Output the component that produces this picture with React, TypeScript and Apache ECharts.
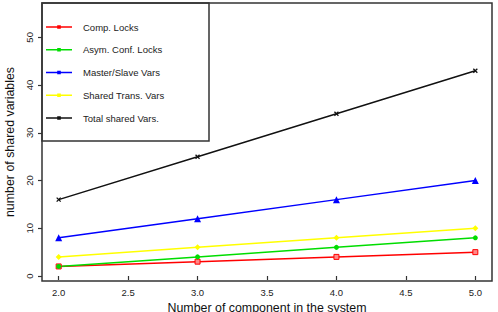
import React, { useEffect, useRef } from "react";
import * as echarts from "echarts";

const xValues = [2, 3, 4, 5];
const compLocks = [2, 3, 4, 5];
const asymConfLocks = [2, 4, 6, 8];
const masterSlaveVars = [8, 12, 16, 20];
const sharedTransVars = [4, 6, 8, 10];
const totalSharedVars = [16, 25, 34, 43];
const xTicks = [2, 2.5, 3, 3.5, 4, 4.5, 5];
const yTicks = [0, 10, 20, 30, 40, 50];
const seriesNames = ["Comp. Locks", "Asym. Conf. Locks", "Master/Slave Vars", "Shared Trans. Vars", "Total shared Vars."];
const seriesColors = ["#ff0000", "#00dd00", "#0000ff", "#ffff00", "#111111"];

const FONT = "Liberation Sans, Arial, Helvetica, sans-serif";
const LEGEND_ICON = "path://M0,4.3h26v1.5h-26z M11.2,3.2h3.6v3.6h-3.6z";

export default function App() {
  const ref = useRef<HTMLDivElement>(null);
  useEffect(() => {
    if (!ref.current) return;
    const chart = echarts.init(ref.current, null, { renderer: "svg" });
    const mk = (vals: number[]) => xValues.map((x, i) => [x, vals[i]]);
    const base = (i: number, vals: number[], symbol: string, size: number, extra: any = {}) => ({
      name: seriesNames[i],
      type: "line",
      data: mk(vals),
      symbol,
      symbolSize: size,
      lineStyle: { color: seriesColors[i], width: 1.5 },
      itemStyle: { color: seriesColors[i], ...extra },
      showSymbol: true,
      z: 3,
    });
    chart.setOption({
      animation: false,
      backgroundColor: "#ffffff",
      grid: {
        left: 42,
        top: 3,
        right: 6,
        bottom: 31,
        show: true,
        borderColor: "#333",
        borderWidth: 1.5,
        backgroundColor: "transparent",
        outerBoundsMode: "none",
        containLabel: false,
      },
      xAxis: {
        type: "value",
        min: 1.88,
        max: 5.12,
        name: "Number of component in the system",
        nameLocation: "middle",
        nameGap: 20,
        nameTextStyle: { fontFamily: FONT, fontSize: 12.4, color: "#111" },
        axisLine: { show: false },
        splitLine: { show: false },
        axisTick: { show: true, length: 4, lineStyle: { color: "#333", width: 1.2 }, customValues: xTicks },
        axisLabel: {
          fontFamily: FONT,
          fontSize: 9.5,
          color: "#222",
          margin: 6,
          customValues: xTicks,
          formatter: (v: number) => v.toFixed(1),
        },
      },
      yAxis: {
        type: "value",
        min: -1.05,
        max: 57.2,
        name: "number of shared variables",
        nameLocation: "middle",
        nameGap: 24,
        nameTextStyle: { fontFamily: FONT, fontSize: 12.4, color: "#111" },
        axisLine: { show: false },
        splitLine: { show: false },
        axisTick: { show: true, length: 4, lineStyle: { color: "#333", width: 1.2 }, customValues: yTicks },
        axisLabel: {
          fontFamily: FONT,
          fontSize: 9.5,
          color: "#222",
          margin: 8,
          rotate: 90,
          customValues: yTicks,
        },
      },
      legend: {
        show: true,
        orient: "vertical",
        left: 46,
        top: 22,
        itemWidth: 26,
        itemHeight: 10,
        itemGap: 12.75,
        padding: 0,
        textStyle: { fontFamily: FONT, fontSize: 9.5, color: "#222", padding: [0, 0, 0, 6] },
        data: seriesNames.map((n, i) => ({
          name: n,
          icon: LEGEND_ICON,
          itemStyle: { color: seriesColors[i], borderWidth: 0 },
        })),
      },
      graphic: [
        {
          type: "rect",
          shape: { x: 42, y: 3, width: 167, height: 138 },
          style: { fill: "transparent", stroke: "#333", lineWidth: 1.5 },
          z: 100,
          silent: true,
        },
      ],
      series: [
        base(0, compLocks, "rect", 5, { color: "#ff8888", borderColor: "#ff0000", borderWidth: 1 }),
        base(1, asymConfLocks, "circle", 5),
        base(2, masterSlaveVars, "triangle", 7),
        base(3, sharedTransVars, "diamond", 6),
        base(4, totalSharedVars, "path://M0,0L10,10M10,0L0,10", 4, {
          borderColor: "#111111",
          borderWidth: 1.3,
        }),
      ],
    });
    return () => chart.dispose();
  }, []);
  return (
    <div
      ref={ref}
      style={{ position: "fixed", left: 0, top: 0, width: 498, height: 312, background: "#fff" }}
    />
  );
}
